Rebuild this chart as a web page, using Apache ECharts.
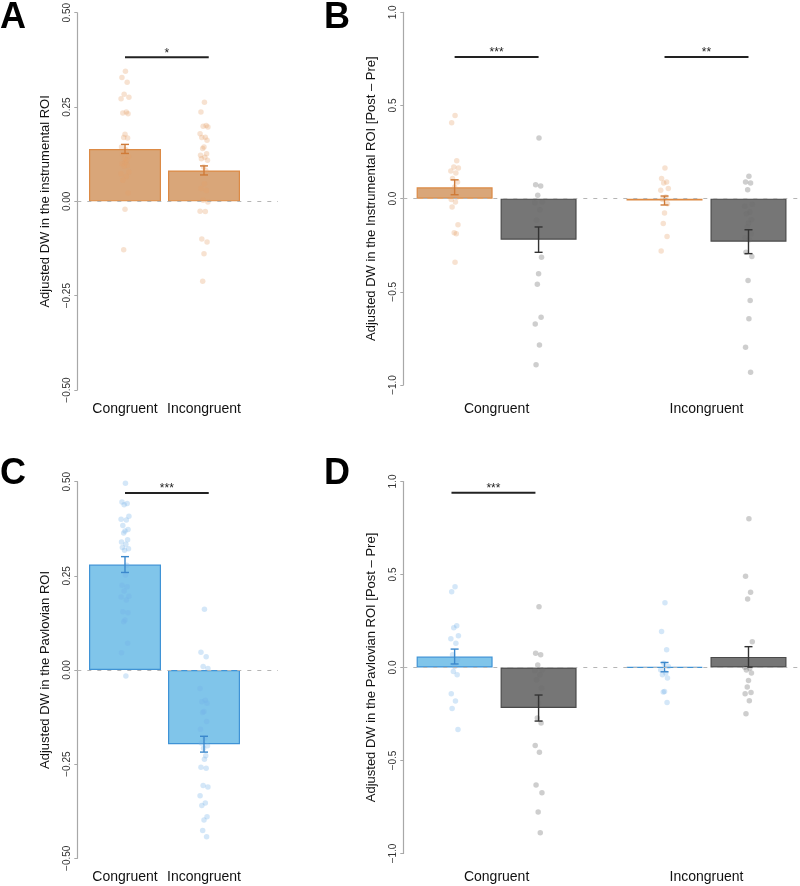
<!DOCTYPE html>
<html><head><meta charset="utf-8">
<script src="https://cdn.jsdelivr.net/npm/echarts@6/dist/echarts.min.js"></script>
<style>html,body{margin:0;padding:0;background:#fff}#c{width:800px;height:886px}</style>
</head><body><div id="c"></div>
<script>
// ---------- DATA ----------
const categories = ['Congruent', 'Incongruent'];
const ticksHalf = ['\u22120.50', '\u22120.25', '0.00', '0.25', '0.50'];
const ticksOne = ['\u22121.0', '\u22120.5', '0.0', '0.5', '1.0'];
const panelLetters = ['A', 'B', 'C', 'D'];
const yTitles = [
  'Adjusted DW in the instrumental ROI',
  'Adjusted DW in the Instrumental ROI [Post \u2013 Pre]',
  'Adjusted DW in the Pavlovian ROI',
  'Adjusted DW in the Pavlovian ROI [Post \u2013 Pre]'
];

// Panel A (instrumental ROI)
const aMeans = [0.139, 0.082];
const aSE = [0.012, 0.012];
const aCongPts = [0.345,0.328,0.316,0.284,0.276,0.272,0.237,0.234,0.232,0.178,0.169,0.168,0.144,0.137,0.126,0.119,0.113,0.109,0.104,0.100,0.095,0.093,0.078,0.073,0.066,0.056,0.022,-0.021,-0.128];
const aIncongPts = [0.263,0.237,0.201,0.199,0.197,0.179,0.170,0.169,0.162,0.144,0.140,0.126,0.122,0.117,0.113,0.109,0.091,0.082,0.047,0.034,0.029,0.003,-0.002,-0.026,-0.027,-0.100,-0.108,-0.139,-0.212];

// Panel B (instrumental ROI, Post - Pre)
const bColorMeans = [0.061, -0.010];
const bColorSE = [0.040, 0.024];
const bGrayMeans = [-0.220, -0.231];
const bGraySE = [0.068, 0.064];
const bColorCongPts = [0.446,0.407,0.203,0.170,0.165,0.149,0.138,0.108,0.090,0.063,0.036,0.009,-0.005,-0.018,-0.045,-0.140,-0.183,-0.188,-0.341];
const bGrayCongPts = [0.326,0.075,0.068,0.018,-0.018,-0.022,-0.059,-0.116,-0.314,-0.403,-0.459,-0.636,-0.672,-0.785,-0.891];
const bColorIncongPts = [0.165,0.108,0.090,0.084,0.054,0.045,0.009,-0.005,-0.027,-0.077,-0.134,-0.203,-0.281];
const bGrayIncongPts = [0.120,0.090,0.084,0.048,-0.030,-0.041,-0.072,-0.081,-0.113,-0.131,-0.152,-0.188,-0.210,-0.220,-0.287,-0.310,-0.439,-0.547,-0.645,-0.797,-0.932];

// Panel C (Pavlovian ROI)
const cMeans = [0.280, -0.197];
const cSE = [0.021, 0.021];
const cCongPts = [0.496,0.446,0.442,0.439,0.408,0.400,0.398,0.384,0.373,0.369,0.364,0.346,0.340,0.334,0.325,0.322,0.318,0.278,0.252,0.225,0.221,0.210,0.196,0.194,0.186,0.155,0.152,0.133,0.128,0.071,0.046,-0.016];
const cIncongPts = [0.161,0.047,0.035,0.009,0.004,-0.049,-0.080,-0.084,-0.088,-0.110,-0.113,-0.137,-0.157,-0.181,-0.194,-0.201,-0.208,-0.228,-0.237,-0.258,-0.261,-0.307,-0.311,-0.334,-0.353,-0.360,-0.390,-0.398,-0.426,-0.443];

// Panel D (Pavlovian ROI, Post - Pre)
const dColorMeans = [0.059, 0.002];
const dColorSE = [0.040, 0.025];
const dGrayMeans = [-0.218, 0.057];
const dGraySE = [0.070, 0.055];
const dColorCongPts = [0.434,0.407,0.225,0.214,0.171,0.154,0.130,0.068,0.041,0.005,-0.021,-0.039,-0.141,-0.180,-0.220,-0.334];
const dGrayCongPts = [0.327,0.077,0.068,0.014,-0.013,-0.016,-0.039,-0.066,-0.111,-0.191,-0.271,-0.298,-0.420,-0.455,-0.632,-0.673,-0.777,-0.888];
const dColorIncongPts = [0.348,0.193,0.095,0.023,0.005,-0.013,-0.030,-0.039,-0.057,-0.129,-0.132,-0.188];
const dGrayIncongPts = [0.800,0.491,0.404,0.368,0.139,0.002,-0.004,-0.013,-0.030,-0.070,-0.105,-0.134,-0.141,-0.179,-0.248];

// significance brackets: [from, to, y, label]
const sigA = [[1, 2.06, 0.382, '*']];
const sigB = [[0.8, 1.2, 0.76, '***'], [1.8, 2.2, 0.76, '**']];
const sigC = [[1, 2.06, 0.47, '***']];
const sigD = [[0.785, 1.185, 0.94, '***']];

// ---------- STYLE ----------
const FONT = '"Liberation Sans", Arial, Helvetica, sans-serif';
const ORANGE = {fill: '#d9a679', border: '#dc8a45', err: '#cf7a37', pt: 'rgba(228,160,105,0.38)'};
const BLUE = {fill: '#80c5ea', border: '#3f93d6', err: '#3b88cc', pt: 'rgba(115,178,232,0.38)'};
const GRAY = {fill: '#767676', border: '#4a4a4a', err: '#333333', pt: 'rgba(110,110,110,0.42)'};
const jitterPattern = [0.1,-0.7,0.5,-0.2,0.9,-0.9,0.3,-0.5,0.7,0.0,-0.3,0.6,-0.8,0.2,-0.6,0.8,-0.1,0.4];

const grids = [
  {left: 77.3, top: 12.3, width: 200.7, height: 377.7},
  {left: 403.3, top: 12.3, width: 396.7, height: 372.7},
  {left: 77.3, top: 481.7, width: 200.7, height: 376.6},
  {left: 403.3, top: 481.5, width: 396.7, height: 372}
];
const xRanges = [[0.3962, 2.9367], [0.5555, 2.4454], [0.3962, 2.9367], [0.5555, 2.4454]];
const xLabelMargins = [12, 17, 12, 17];

function yAxis(i, half) {
  const labels = half ? ticksHalf : ticksOne;
  const mn = half ? -0.5 : -1, step = half ? 0.25 : 0.5;
  return {
    type: 'value', gridIndex: i, min: mn, max: -mn, interval: step,
    axisLine: {show: true, lineStyle: {color: '#a8a8a8', width: 1.2}},
    axisTick: {show: true, length: 3, lineStyle: {color: '#a8a8a8'}},
    splitLine: {show: false},
    axisLabel: {rotate: 90, margin: 5, fontSize: 10, color: '#333', fontFamily: FONT,
      formatter: v => labels[Math.round((v - mn) / step)]},
    name: yTitles[i], nameLocation: 'middle', nameGap: 25, nameRotate: 90,
    nameTextStyle: {fontSize: 13, color: '#111', fontFamily: FONT}
  };
}
function xAxis(i) {
  return {
    type: 'value', gridIndex: i, min: xRanges[i][0], max: xRanges[i][1],
    axisLine: {show: false}, axisTick: {show: false}, splitLine: {show: false},
    axisLabel: {customValues: [1, 2], margin: xLabelMargins[i], fontSize: 14, color: '#111', fontFamily: FONT,
      formatter: v => categories[Math.round(v) - 1]}
  };
}

const series = [];
function zeroLine(i) {
  series.push({type: 'line', xAxisIndex: i, yAxisIndex: i, data: [], silent: true, z: 1,
    markLine: {symbol: 'none', silent: true, label: {show: false},
      lineStyle: {color: '#b5b5b5', type: [4, 6], width: 1},
      data: [{yAxis: 0}]}});
}
function bars(i, xs, vals, styles, width) {
  series.push({type: 'bar', xAxisIndex: i, yAxisIndex: i, barWidth: width, z: 2,
    data: vals.map((v, k) => ({value: [xs[k], v],
      itemStyle: {color: styles[k].fill, borderColor: styles[k].border, borderWidth: 1.2}}))});
}
function points(i, x, vals, style, spread) {
  series.push({type: 'scatter', xAxisIndex: i, yAxisIndex: i, symbolSize: 5.5, z: 3, silent: true,
    itemStyle: {color: style.pt},
    data: vals.map((v, k) => [x + jitterPattern[k % jitterPattern.length] * spread, v])});
}
function errbars(i, xs, means, ses, style) {
  series.push({type: 'custom', xAxisIndex: i, yAxisIndex: i, z: 4, silent: true,
    data: means.map((m, k) => [xs[k], m - ses[k], m + ses[k]]),
    renderItem: (params, api) => {
      const x = api.value(0);
      const p1 = api.coord([x, api.value(2)]), p2 = api.coord([x, api.value(1)]);
      const c = 4, st = {stroke: style.err, lineWidth: 1.4};
      return {type: 'group', children: [
        {type: 'line', shape: {x1: p1[0], y1: p1[1], x2: p2[0], y2: p2[1]}, style: st},
        {type: 'line', shape: {x1: p1[0] - c, y1: p1[1], x2: p1[0] + c, y2: p1[1]}, style: st},
        {type: 'line', shape: {x1: p2[0] - c, y1: p2[1], x2: p2[0] + c, y2: p2[1]}, style: st}
      ]};
    }});
}
function sig(i, list) {
  series.push({type: 'custom', xAxisIndex: i, yAxisIndex: i, z: 5, silent: true,
    data: list.map(s => [s[0], s[1], s[2]]),
    renderItem: (params, api) => {
      const s = list[params.dataIndex];
      const a = api.coord([api.value(0), api.value(2)]), b = api.coord([api.value(1), api.value(2)]);
      return {type: 'group', children: [
        {type: 'line', shape: {x1: a[0], y1: a[1], x2: b[0], y2: b[1]}, style: {stroke: '#222', lineWidth: 2}},
        {type: 'text', x: (a[0] + b[0]) / 2, y: a[1] - 4,
          style: {text: s[3], fill: '#222', font: '12px ' + FONT, align: 'center', verticalAlign: 'middle'}}
      ]};
    }});
}

// Panel A
zeroLine(0);
bars(0, [1, 2], aMeans, [ORANGE, ORANGE], 72);
points(0, 1, aCongPts, ORANGE, 0.055);
points(0, 2, aIncongPts, ORANGE, 0.055);
errbars(0, [1, 2], aMeans, aSE, ORANGE);
sig(0, sigA);
// Panel B
zeroLine(1);
bars(1, [0.8, 1.2, 1.8, 2.2], [bColorMeans[0], bGrayMeans[0], bColorMeans[1], bGrayMeans[1]], [ORANGE, GRAY, ORANGE, GRAY], 76);
points(1, 0.8, bColorCongPts, ORANGE, 0.02);
points(1, 1.2, bGrayCongPts, GRAY, 0.02);
points(1, 1.8, bColorIncongPts, ORANGE, 0.02);
points(1, 2.2, bGrayIncongPts, GRAY, 0.02);
errbars(1, [0.8, 1.8], bColorMeans, bColorSE, ORANGE);
errbars(1, [1.2, 2.2], bGrayMeans, bGraySE, GRAY);
sig(1, sigB);
// Panel C
zeroLine(2);
bars(2, [1, 2], cMeans, [BLUE, BLUE], 72);
points(2, 1, cCongPts, BLUE, 0.055);
points(2, 2, cIncongPts, BLUE, 0.055);
errbars(2, [1, 2], cMeans, cSE, BLUE);
sig(2, sigC);
// Panel D
zeroLine(3);
bars(3, [0.8, 1.2, 1.8, 2.2], [dColorMeans[0], dGrayMeans[0], dColorMeans[1], dGrayMeans[1]], [BLUE, GRAY, BLUE, GRAY], 76);
points(3, 0.8, dColorCongPts, BLUE, 0.02);
points(3, 1.2, dGrayCongPts, GRAY, 0.02);
points(3, 1.8, dColorIncongPts, BLUE, 0.02);
points(3, 2.2, dGrayIncongPts, GRAY, 0.02);
errbars(3, [0.8, 1.8], dColorMeans, dColorSE, BLUE);
errbars(3, [1.2, 2.2], dGrayMeans, dGraySE, GRAY);
sig(3, sigD);

const letterPos = [[0, 0], [324, 0], [0, 456], [324, 456]];
const chart = echarts.init(document.getElementById('c'), null, {renderer: 'canvas'});
chart.setOption({
  animation: false,
  backgroundColor: '#fff',
  title: panelLetters.map((t, i) => ({text: t, left: letterPos[i][0], top: letterPos[i][1], padding: 0,
    textStyle: {fontSize: 36, fontWeight: 'bold', color: '#000', fontFamily: FONT}})),
  grid: grids,
  xAxis: [0, 1, 2, 3].map(xAxis),
  yAxis: [yAxis(0, true), yAxis(1, false), yAxis(2, true), yAxis(3, false)],
  series: series
});
</script></body></html>
